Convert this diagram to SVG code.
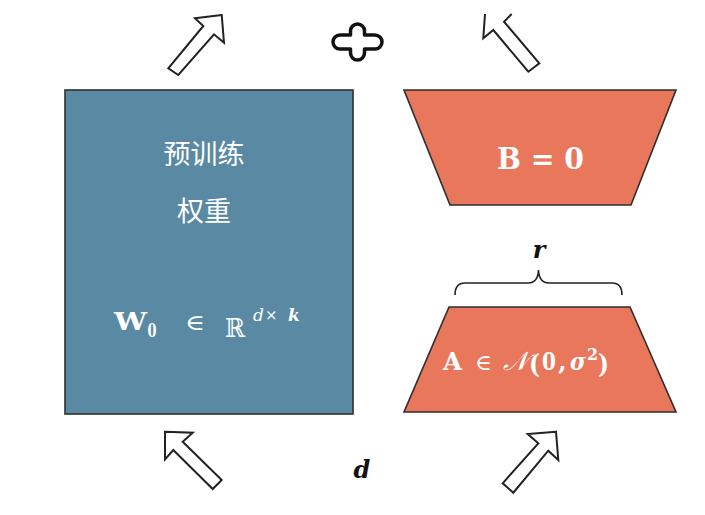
<svg xmlns="http://www.w3.org/2000/svg" width="705" height="515" viewBox="0 0 705 515">
<style>
.arrow{fill:#fff;stroke:#222;stroke-width:2;stroke-linejoin:miter}
.shape{stroke:#2e2e2e;stroke-width:1.6}
.cjk{font-family:"Noto Sans CJK SC","Noto Sans",sans-serif;font-size:27px;fill:#fff;text-anchor:middle}
.math{font-family:"DejaVu Serif","Liberation Serif",serif;fill:#fff}
.b{font-weight:bold}
.i{font-style:italic}
.lbl{font-family:"DejaVu Serif","Liberation Serif",serif;font-style:italic;font-weight:bold;fill:#111;text-anchor:middle}
</style>
<rect width="705" height="515" fill="#fff"/>
<g id="pretrained">
<rect class="shape" x="65" y="90" width="288" height="324" fill="#5a8aa3"/>
<text class="cjk" x="204" y="164">预训练</text>
<text class="cjk" x="204" y="221">权重</text>
<text class="math b" x="114" y="330" font-size="24" textLength="33" lengthAdjust="spacingAndGlyphs">W</text>
<text class="math b" x="147.5" y="337" font-size="18" textLength="9" lengthAdjust="spacingAndGlyphs">0</text>
<text class="math" x="185" y="330" font-size="22" textLength="20" lengthAdjust="spacingAndGlyphs">∈</text>
<text class="math" x="225" y="337" font-size="26" textLength="20" lengthAdjust="spacingAndGlyphs">ℝ</text>
<text class="math i" x="253" y="321" font-size="17">d</text>
<text class="math" x="265" y="320" font-size="15">×</text>
<text class="math i b" x="288" y="321" font-size="17">k</text>
</g>
<g id="B">
<polygon class="shape" points="404,90 676,90 631,205 450,205" fill="#e8775b"/>
<text class="math b" x="497" y="169" font-size="29" textLength="87" lengthAdjust="spacingAndGlyphs">B = 0</text>
</g>
<g id="A">
<polygon class="shape" points="449,307 630,307 676,412 404,412" fill="#e8775b"/>
<text class="math b" x="443" y="370" font-size="25" textLength="19" lengthAdjust="spacingAndGlyphs">A</text>
<text class="math" x="475" y="370" font-size="22" textLength="17" lengthAdjust="spacingAndGlyphs">∈</text>
<text class="math i" x="503" y="370" font-size="26" textLength="25" lengthAdjust="spacingAndGlyphs">𝒩</text>
<text class="math b" x="529" y="373" font-size="26" textLength="11" lengthAdjust="spacingAndGlyphs">(</text>
<text class="math b" x="542" y="370" font-size="25" textLength="14" lengthAdjust="spacingAndGlyphs">0</text>
<text class="math b" x="558" y="370" font-size="25">,</text>
<text class="math b i" x="570" y="370" font-size="25" textLength="16" lengthAdjust="spacingAndGlyphs">σ</text>
<text class="math b" x="587" y="360" font-size="16">2</text>
<text class="math b" x="598" y="373" font-size="26" textLength="11" lengthAdjust="spacingAndGlyphs">)</text>
</g>
<g id="plus">
<path d="M350.5,35 V31 A7,7 0 0 1 364.5,31 V35 H375 A7,7 0 0 1 375,49 H364.5 V53 A7,7 0 0 1 350.5,53 V49 H340 A7,7 0 0 1 340,35 Z" fill="#fff" stroke="#111" stroke-width="3.5" stroke-linejoin="round"/>
</g>
<g id="labels">
<text class="lbl" x="539" y="258" font-size="24">r</text>
<text class="lbl" x="362" y="478" font-size="24">d</text>
</g>
<g id="connectors">
<path d="M455,295 Q455,283 465,283 H528 Q538,283 538.5,270 Q539,283 549,283 H612 Q622,283 622,295" fill="none" stroke="#222" stroke-width="1.6"/>
<polygon class="arrow" points="221.7,15 195,18.3 203.3,26 168.3,68.3 178.3,75 214,34.3 224,42.7"/>
<path class="arrow" d="M511.7,14 L504,21.7 L539.3,63.3 L528.3,71.7 L493.3,30 L483.3,38.3 L485,14"/>
<polygon class="arrow" points="165,431.7 192.7,432.7 182.7,441.7 221.7,480 212.7,489 173.3,450 165,459.3"/>
<polygon class="arrow" points="556,431.7 527.7,434 538.3,443.3 502.7,483.3 513.3,492.7 548.3,450.7 558.3,460"/>
</g>
</svg>
